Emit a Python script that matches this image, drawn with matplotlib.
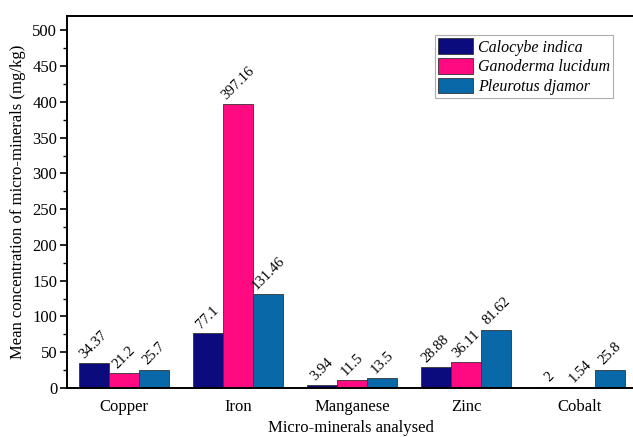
import matplotlib
matplotlib.use("Agg")
import matplotlib.pyplot as plt
import numpy as np
from matplotlib.ticker import MultipleLocator

plt.rcParams['font.family'] = ['Liberation Serif', 'DejaVu Serif']

minerals = ["Copper", "Iron", "Manganese", "Zinc", "Cobalt"]
species = ["Calocybe indica", "Ganoderma lucidum", "Pleurotus djamor"]
calocybe = [34.37, 77.1, 3.94, 28.88, 2]
ganoderma = [21.2, 397.16, 11.5, 36.11, 1.54]
pleurotus = [25.7, 131.46, 13.5, 81.62, 25.8]
value_labels = [
    ["34.37", "77.1", "3.94", "28.88", "2"],
    ["21.2", "397.16", "11.5", "36.11", "1.54"],
    ["25.7", "131.46", "13.5", "81.62", "25.8"],
]
colors = ["#0b0b7d", "#ff0a80", "#0868a8"]

W, H = 633, 437
fig = plt.figure(figsize=(W / 100, H / 100), dpi=100)
left_px, right_px, top_px, bottom_px = 67, 637, 16, 388
ax = fig.add_axes([left_px / W, (H - bottom_px) / H,
                   (right_px - left_px) / W, (bottom_px - top_px) / H])

x = np.arange(len(minerals))
width = 0.265
series = [calocybe, ganoderma, pleurotus]
for i, (vals, col, name) in enumerate(zip(series, colors, species)):
    pos = x + (i - 1) * width
    ax.bar(pos, vals, width=width, color=col, edgecolor="#333333",
           linewidth=0.6, label=name)
    for px, v, lab in zip(pos, vals, value_labels[i]):
        ax.text(px, v + 3, lab, rotation=45, ha="center", va="bottom",
                fontsize=10.5)

ax.set_xlim(-0.5, 4.5)
ax.set_ylim(0, 520)
ax.set_xticks(x)
ax.set_xticklabels(minerals, fontsize=12)
ax.tick_params(axis="x", length=0, pad=8)
ax.yaxis.set_major_locator(MultipleLocator(50))
ax.yaxis.set_minor_locator(MultipleLocator(25))
ax.set_yticks(np.arange(0, 501, 50))
ax.tick_params(axis="y", which="major", length=5, width=1.2, labelsize=12,
               direction="out", pad=2)
ax.tick_params(axis="y", which="minor", length=3, width=1.0, direction="out")

for side in ["left", "bottom", "top"]:
    ax.spines[side].set_linewidth(1.4)
ax.spines["right"].set_visible(False)

ax.set_ylabel("Mean concentration of micro-minerals (mg/kg)", fontsize=12)
ax.yaxis.set_label_coords((26 - left_px) / (right_px - left_px), 0.5)
ax.set_xlabel("Micro-minerals analysed", fontsize=12, va="top")
ax.xaxis.set_label_coords((351 - left_px) / (right_px - left_px),
                          -(420 - bottom_px) / (bottom_px - top_px))

leg = ax.legend(loc="upper right", bbox_to_anchor=(0.958, 0.949),
                borderaxespad=0, fancybox=False, edgecolor="#999999",
                prop={"style": "italic", "size": 11.5},
                handlelength=2.2, handleheight=1.15, labelspacing=0.15,
                handletextpad=0.3, borderpad=0.2)
leg.get_frame().set_linewidth(0.8)

fig.savefig("out.png", dpi=100)
